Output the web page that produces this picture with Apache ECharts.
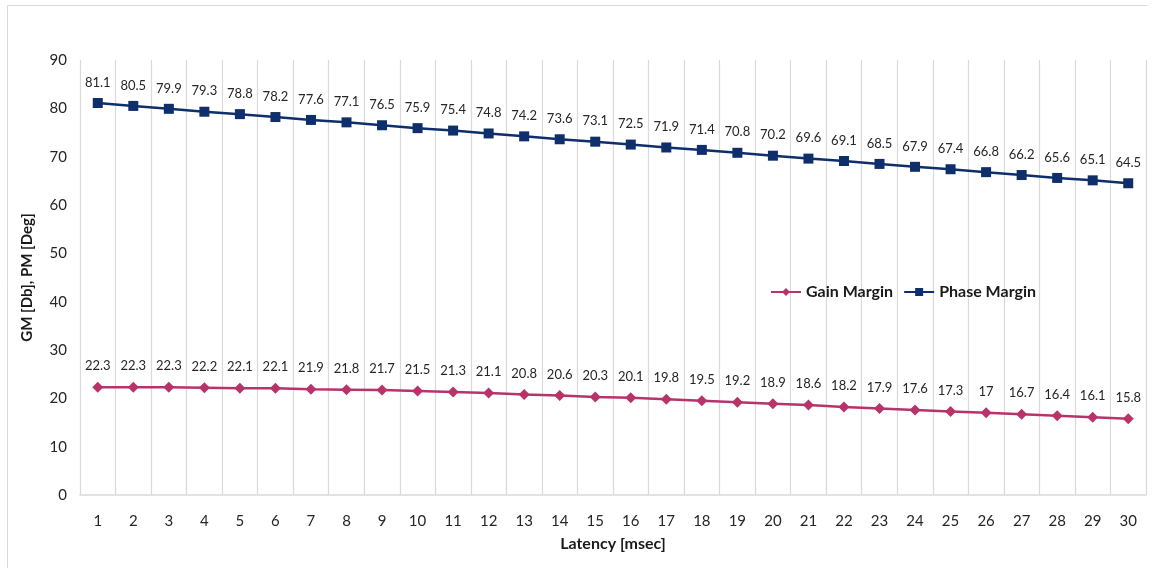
<!DOCTYPE html>
<html>
<head>
<meta charset="utf-8">
<script src="https://cdn.jsdelivr.net/npm/echarts@6/dist/echarts.min.js"></script>
<style>
  html, body { margin: 0; padding: 0; background: #fff; }
  #chart { width: 1156px; height: 568px; }
</style>
</head>
<body>
<div id="chart"></div>
<script>
// Latency sweep: gain and phase margins per latency step
const latency = [1,2,3,4,5,6,7,8,9,10,11,12,13,14,15,16,17,18,19,20,21,22,23,24,25,26,27,28,29,30];
const gainMargin = [22.3,22.3,22.3,22.2,22.1,22.1,21.9,21.8,21.7,21.5,21.3,21.1,20.8,20.6,20.3,20.1,19.8,19.5,19.2,18.9,18.6,18.2,17.9,17.6,17.3,17,16.7,16.4,16.1,15.8];
const phaseMargin = [81.1,80.5,79.9,79.3,78.8,78.2,77.6,77.1,76.5,75.9,75.4,74.8,74.2,73.6,73.1,72.5,71.9,71.4,70.8,70.2,69.6,69.1,68.5,67.9,67.4,66.8,66.2,65.6,65.1,64.5];

const FONT = 'Lato, "Open Sans", sans-serif';
const chart = echarts.init(document.getElementById('chart'), null, { renderer: 'canvas' });

chart.setOption({
  backgroundColor: '#ffffff',
  animation: false,
  textStyle: { fontFamily: FONT },
  graphic: [
    { type: 'polyline', shape: { points: [[7.5, 568], [7.5, 5.5], [1147, 5.5]] },
      style: { stroke: '#d9d9d9', lineWidth: 1, fill: null }, silent: true }
  ],
  grid: { left: 80, right: 10, top: 60, bottom: 73, containLabel: false },
  legend: {
    left: 765, top: 279,
    itemWidth: 30, itemHeight: 10, itemGap: 10,
    textStyle: { fontFamily: FONT, fontSize: 16, fontWeight: 'bold', color: '#1a1a1a' },
    data: ['Gain Margin', 'Phase Margin']
  },
  xAxis: {
    type: 'category',
    data: latency,
    boundaryGap: true,
    name: 'Latency [msec]',
    nameLocation: 'middle',
    nameGap: 41,
    nameTextStyle: { fontFamily: FONT, fontSize: 16, fontWeight: 'bold', color: '#1a1a1a' },
    axisLine: { show: true, lineStyle: { color: '#d9d9d9', width: 1.5 } },
    axisTick: { show: false },
    axisLabel: { fontFamily: FONT, fontSize: 15, color: '#262626', margin: 19 },
    splitLine: { show: true, interval: 0, lineStyle: { color: '#d9d9d9', width: 1.2 } }
  },
  yAxis: {
    type: 'value',
    min: 0, max: 90, interval: 10,
    name: 'GM [Db], PM [Deg]',
    nameLocation: 'middle',
    nameGap: 45,
    nameRotate: 90,
    nameTextStyle: { fontFamily: FONT, fontSize: 15, fontWeight: 'bold', color: '#1a1a1a' },
    axisLine: { show: false },
    axisTick: { show: false },
    axisLabel: { fontFamily: FONT, fontSize: 15, color: '#262626', margin: 13 },
    splitLine: { show: false }
  },
  series: [
    {
      name: 'Gain Margin',
      type: 'line',
      data: gainMargin,
      symbol: 'diamond',
      symbolSize: 11,
      itemStyle: { color: '#b8336a' },
      lineStyle: { color: '#b8336a', width: 2.5 },
      label: { show: true, position: 'top', distance: 9, fontFamily: FONT, fontSize: 13, color: '#262626' }
    },
    {
      name: 'Phase Margin',
      type: 'line',
      data: phaseMargin,
      symbol: 'rect',
      symbolSize: 10,
      itemStyle: { color: '#0e2f6b' },
      lineStyle: { color: '#0e2f6b', width: 2.5 },
      label: { show: true, position: 'top', distance: 9, fontFamily: FONT, fontSize: 13, color: '#262626' }
    }
  ]
});
</script>
</body>
</html>
